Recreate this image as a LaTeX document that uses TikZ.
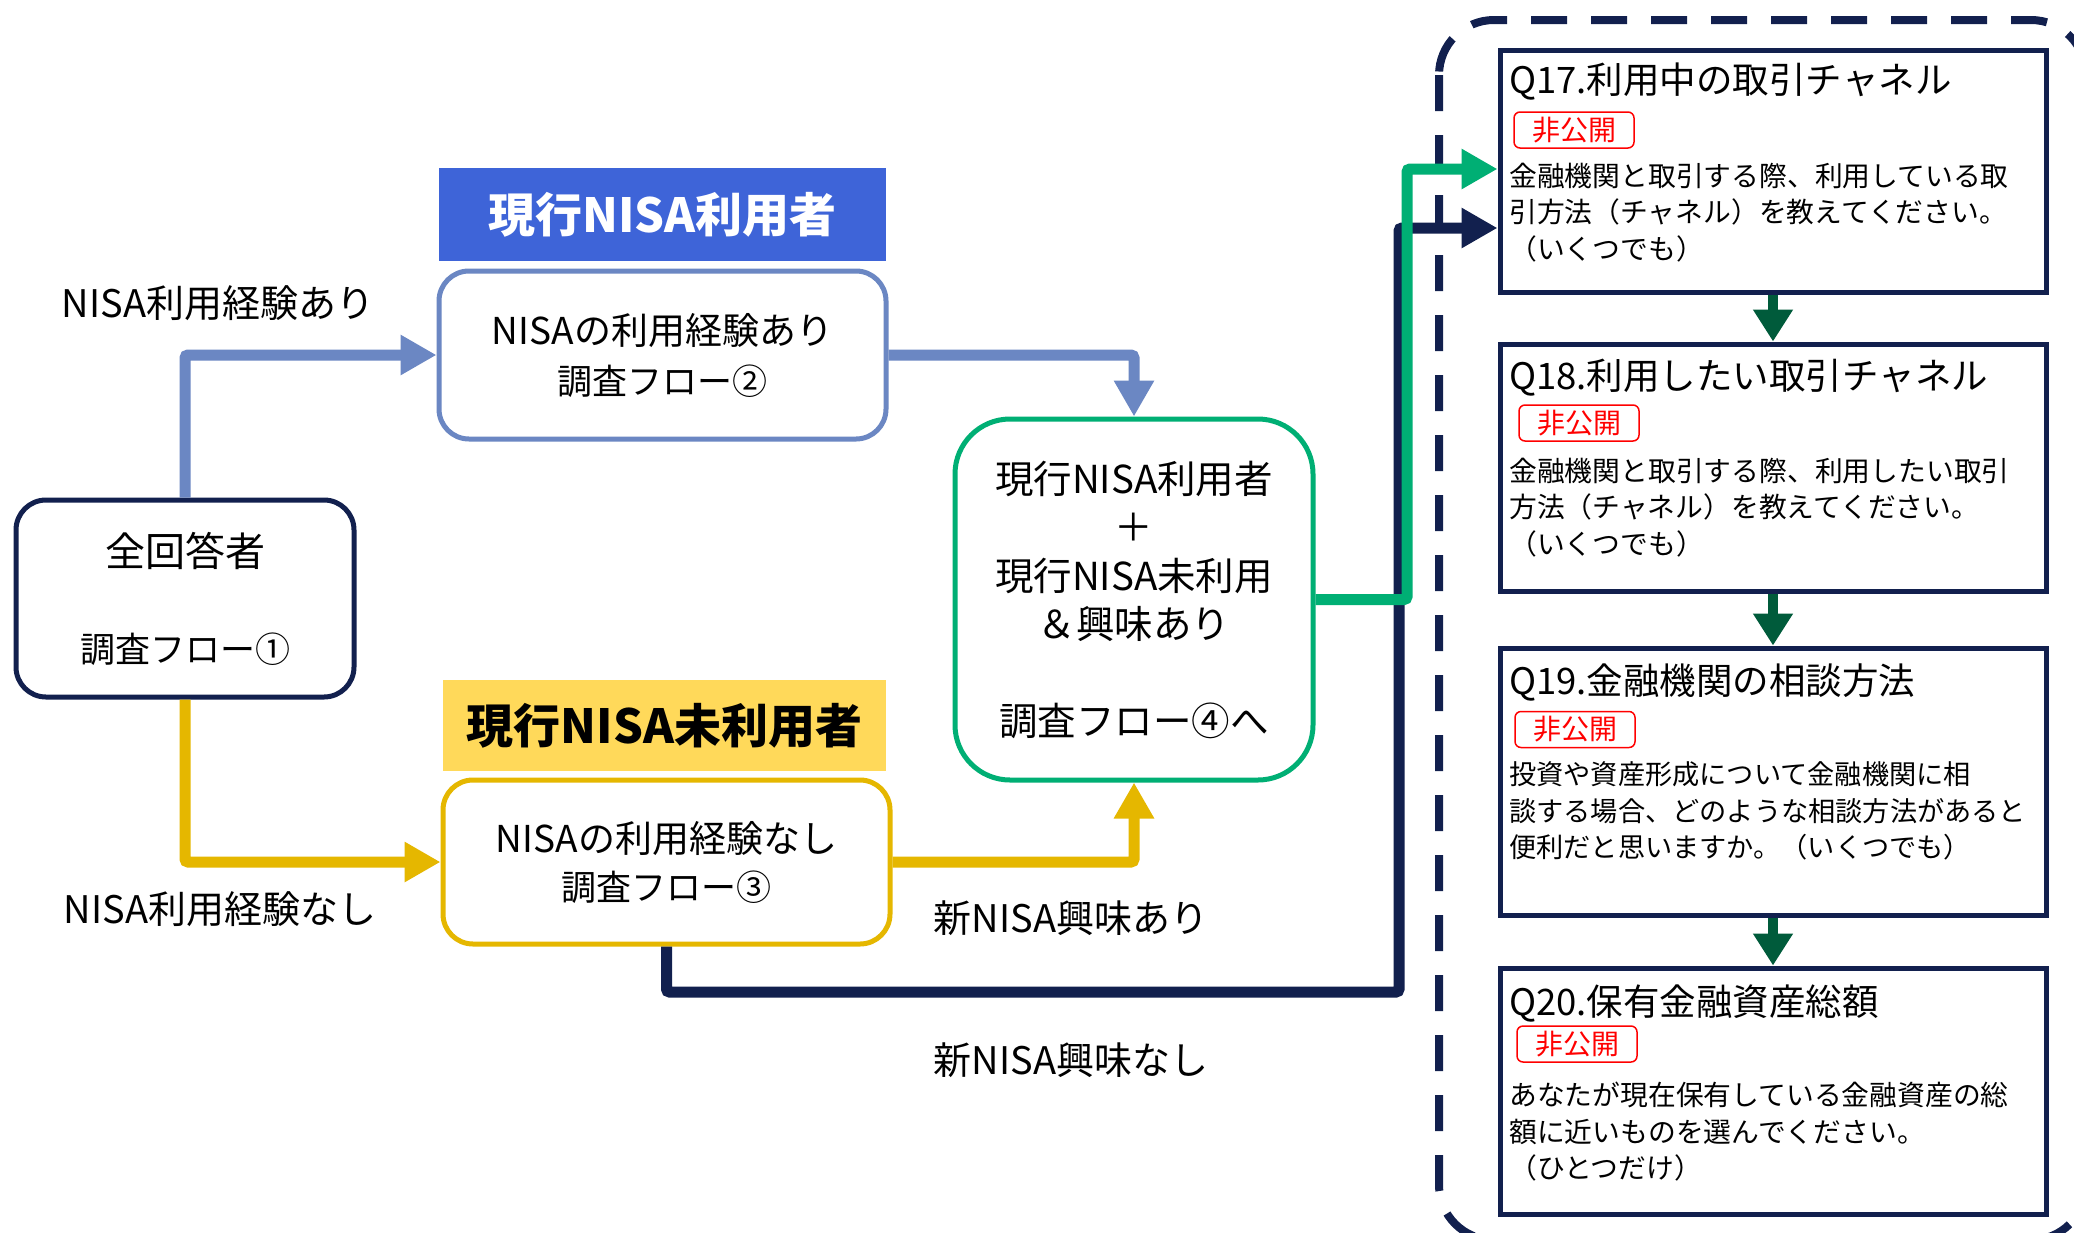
\documentclass[tikz,border=0pt]{standalone}
\usepackage{fontspec}
\setmainfont{Noto Sans CJK JP}
\usetikzlibrary{arrows.meta}
\definecolor{navy}{HTML}{12204E}
\definecolor{hdrblue}{HTML}{3E64D8}
\definecolor{lineblue}{HTML}{6B87C3}
\definecolor{gold}{HTML}{E5B700}
\definecolor{hdryellow}{HTML}{FFD95A}
\definecolor{flowgreen}{HTML}{00AF74}
\definecolor{darkgreen}{HTML}{005B3B}
\newcommand{\fsz}[2]{\fontsize{#1}{#2}\selectfont}
\begin{document}
\begin{tikzpicture}[x=1pt,y=-1pt,
  conn/.style={line width=11pt, rounded corners=3pt, -{Triangle[length=36pt,width=38pt]}},
  flowbox/.style={draw, line width=5pt, rounded corners=30pt, fill=white, align=center, inner sep=0pt},
  hdr/.style={inner sep=0pt, font=\fsz{47}{50}\bfseries},
  qbox/.style={draw=navy, line width=5pt, fill=white, minimum width=546pt, inner sep=0pt},
  qtitle/.style={anchor=west, font=\fsz{36.5}{43}, inner sep=0pt},
  qbody/.style={anchor=west, align=left, font=\fsz{27.8}{36.5}, inner sep=0pt},
  tag/.style={draw=red, line width=1.5pt, rounded corners=6pt, text=red, font=\fsz{28}{34}, minimum width=120pt, minimum height=36pt, inner sep=0pt},
  lbl/.style={inner sep=0pt, font=\fsz{38}{40}},
  qarrow/.style={draw=darkgreen, line width=10pt, -{Triangle[length=32pt,width=38pt]}}
]
\useasboundingbox (0,0) rectangle (2074,1232);
\fill[white] (0,0) rectangle (2074,1232);

% dashed container
\begin{scope}
\clip (0,0) rectangle (2074,1232);
\draw[navy, line width=8pt, dash pattern=on 36pt off 24pt, rounded corners=55pt] (1439,20) rectangle (2086,1240);
\end{scope}

% headers
\node[hdr, fill=hdrblue, text=white, minimum width=447pt, minimum height=93pt] (hdrA) at (662.5,214.5) {現行NISA利用者};
\node[hdr, fill=hdryellow, text=black, minimum width=443pt, minimum height=91pt] (hdrB) at (664.5,725.5) {現行NISA未利用者};

% flow boxes
\node[flowbox, draw=navy, minimum width=338pt, minimum height=197pt, font=\fsz{35}{42}] (all) at (185,598.5) {{\fsz{40}{42}全回答者}\\[54pt]調査フロー①};
\node[flowbox, draw=lineblue, minimum width=447pt, minimum height=168pt, font=\fsz{35}{50}] (exp) at (662.5,355) {{\fsz{37}{50}NISAの利用経験あり}\\調査フロー②};
\node[flowbox, draw=gold, minimum width=447pt, minimum height=164pt, font=\fsz{35}{48}] (noexp) at (666.5,862) {{\fsz{37}{48}NISAの利用経験なし}\\調査フロー③};
\node[flowbox, draw=flowgreen, rounded corners=55pt, minimum width=358pt, minimum height=361pt, font=\fsz{38.5}{48.5}] (merge) at (1134,599.5) {現行NISA利用者\\＋\\現行NISA未利用\\＆興味あり\\[48pt]調査フロー④へ};

% question boxes
\node[qbox, minimum height=242pt] (q17) at (1773,171) {};
\node[qbox, minimum height=247pt] (q18) at (1773,467.5) {};
\node[qbox, minimum height=267pt] (q19) at (1773,781.5) {};
\node[qbox, minimum height=246pt] (q20) at (1773,1091) {};

% labels
\node[lbl] (l1) at (218,303) {NISA利用経験あり};
\node[lbl] (l2) at (220,909) {NISA利用経験なし};
\node[lbl] (l3) at (1071,918) {新NISA興味あり};
\node[lbl] (l4) at (1071,1060) {新NISA興味なし};

% connectors
\coordinate (nv1) at (1399,992);
\coordinate (nv2) at (1399,228);
\coordinate (gr1) at (1407,599.5);
\coordinate (gr2) at (1407,169);
\draw[conn, draw=navy] (noexp.south) |- (nv1) -- (nv2) -- (q17.west |- nv2);
\draw[conn, draw=flowgreen] (merge.east) -- (gr1) -- (gr2) -- (q17.west |- gr2);
\draw[conn, draw=lineblue] (all.north) |- (exp.west);
\draw[conn, draw=lineblue] (exp.east) -| (merge.north);
\draw[conn, draw=gold] (all.south) |- (noexp.west);
\draw[conn, draw=gold] (noexp.east) -| (merge.south);
\draw[qarrow] (q17.south) -- (q18.north);
\draw[qarrow] (q18.south) -- (q19.north);
\draw[qarrow] (q19.south) -- (q20.north);

% question texts
\node[qtitle] (t17) at (1509,82) {Q17.利用中の取引チャネル};
\node[tag] (g17) at (1574,130) {非公開};
\node[qbody] (b17) at (1509,212.5) {金融機関と取引する際、利用している取\\引方法（チャネル）を教えてください。\\（いくつでも）};

\node[qtitle] (t18) at (1509,378) {Q18.利用したい取引チャネル};
\node[tag] (g18) at (1579,423) {非公開};
\node[qbody] (b18) at (1509,507.5) {金融機関と取引する際、利用したい取引\\方法（チャネル）を教えてください。\\（いくつでも）};

\node[qtitle] (t19) at (1509,682) {Q19.金融機関の相談方法};
\node[tag] (g19) at (1575,729.5) {非公開};
\node[qbody, font=\fsz{27.2}{36.5}] (b19) at (1509,811) {投資や資産形成について金融機関に相\\談する場合、どのような相談方法があると\\便利だと思いますか。（いくつでも）};

\node[qtitle] (t20) at (1509,1003) {Q20.保有金融資産総額};
\node[tag] (g20) at (1577,1044) {非公開};
\node[qbody] (b20) at (1509,1132) {あなたが現在保有している金融資産の総\\額に近いものを選んでください。\\（ひとつだけ）};
\end{tikzpicture}
\end{document}
